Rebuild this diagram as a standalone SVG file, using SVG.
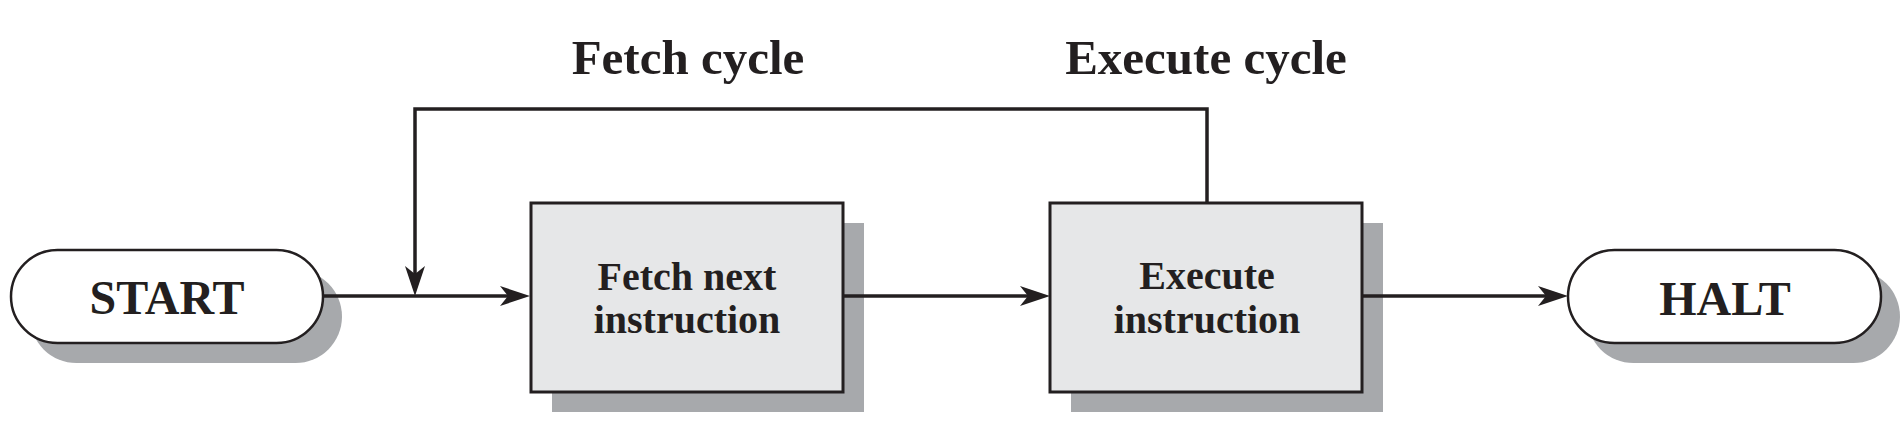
<svg xmlns="http://www.w3.org/2000/svg" width="1904" height="430" viewBox="0 0 1904 430">
<style>
.shadow{fill:#a7a9ac;stroke:none}
.pill{fill:#ffffff;stroke:#231f20;stroke-width:2.5}
.box{fill:#e6e7e8;stroke:#231f20;stroke-width:3}
.t{font-family:"Liberation Serif","Times New Roman",serif;font-weight:bold;fill:#231f20;text-anchor:middle}
.conn{fill:none;stroke:#231f20;stroke-width:3.5}
</style>
<defs>
<marker id="arr" markerUnits="userSpaceOnUse" viewBox="0 0 30 20" refX="8" refY="10" markerWidth="30" markerHeight="20" orient="auto">
<path d="M0,0 L30,10 L0,20 L8,10 Z" fill="#231f20"/>
</marker>
</defs>
<rect width="1904" height="430" fill="#ffffff"/>
<g id="labels">
<text class="t" x="688" y="74" font-size="49">Fetch cycle</text>
<text class="t" x="1206" y="74" font-size="49">Execute cycle</text>
</g>
<g id="start">
<rect class="shadow" x="30" y="270" width="312" height="93" rx="46.5"/>
<rect class="pill" x="11" y="250" width="312" height="93" rx="46.5"/>
<text class="t" x="167" y="314" font-size="48">START</text>
</g>
<g id="fetch">
<rect class="shadow" x="552" y="223" width="312" height="189"/>
<rect class="box" x="531" y="203" width="312" height="189"/>
<text class="t" x="687" y="290" font-size="40">Fetch next</text>
<text class="t" x="687" y="333" font-size="40">instruction</text>
</g>
<g id="execute">
<rect class="shadow" x="1071" y="223" width="312" height="189"/>
<rect class="box" x="1050" y="203" width="312" height="189"/>
<text class="t" x="1207" y="289" font-size="40">Execute</text>
<text class="t" x="1207" y="333" font-size="40">instruction</text>
</g>
<g id="halt">
<rect class="shadow" x="1587" y="270" width="313" height="93" rx="46.5"/>
<rect class="pill" x="1568" y="250" width="313" height="93" rx="46.5"/>
<text class="t" x="1725" y="315" font-size="48">HALT</text>
</g>
<g id="connectors">
<line class="conn" x1="323" y1="296" x2="508" y2="296" marker-end="url(#arr)"/>
<line class="conn" x1="843" y1="296" x2="1028" y2="296" marker-end="url(#arr)"/>
<line class="conn" x1="1362" y1="296" x2="1546" y2="296" marker-end="url(#arr)"/>
<polyline class="conn" points="1207,203 1207,109 415,109 415,274" marker-end="url(#arr)"/>
</g>
</svg>
